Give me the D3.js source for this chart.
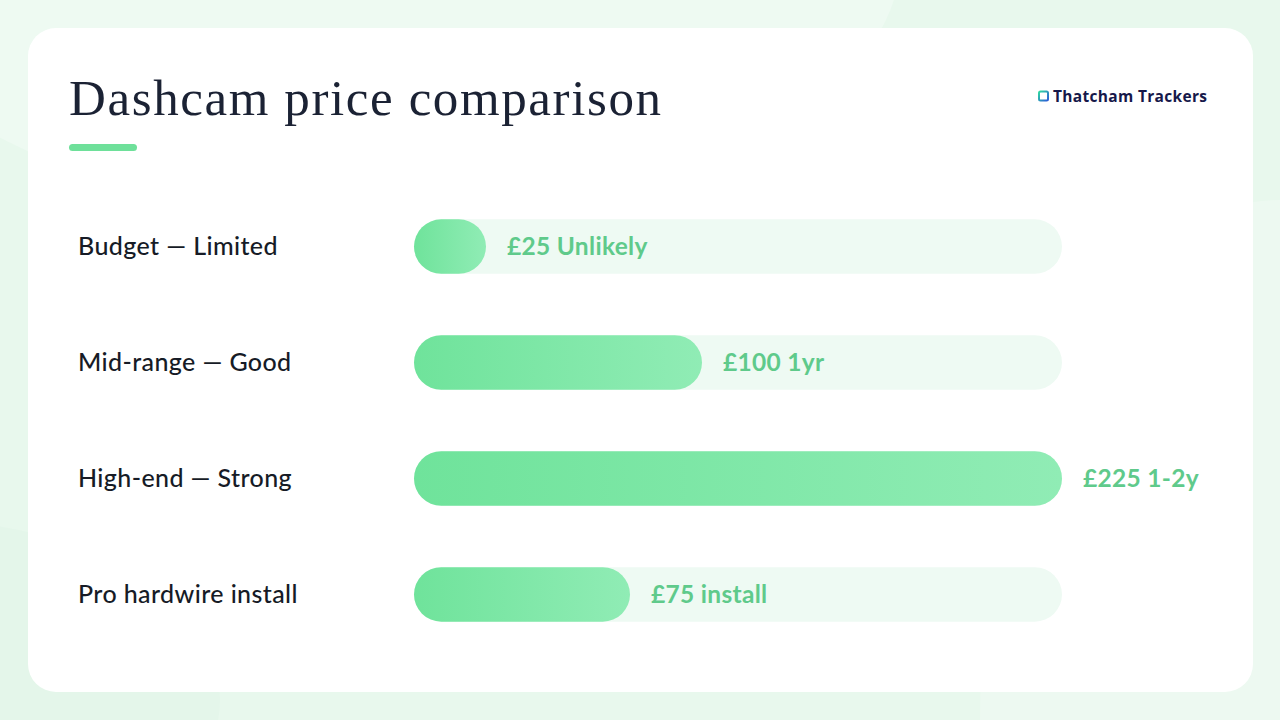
<!DOCTYPE html>
<html>
<head>
<meta charset="utf-8">
<script src="https://cdn.jsdelivr.net/npm/d3@7"></script>
<style>
html,body{margin:0;padding:0;background:#e6f7ec;}
svg{display:block;}
</style>
</head>
<body>
<svg id="chart" width="1280" height="720"></svg>
<script>
const categories = ["Budget — Limited", "Mid-range — Good", "High-end — Strong", "Pro hardwire install"];
const prices = [25, 100, 225, 75];
const valueLabels = ["£25 Unlikely", "£100 1yr", "£225 1-2y", "£75 install"];
const title = "Dashcam price comparison";
const brand = "Thatcham Trackers";

const svg = d3.select("#chart");
const defs = svg.append("defs");

const g1 = defs.append("linearGradient").attr("id","barGrad").attr("x1","0%").attr("x2","100%");
g1.append("stop").attr("offset","0%").attr("stop-color","#6fe39b");
g1.append("stop").attr("offset","100%").attr("stop-color","#90ecb5");

const g2 = defs.append("linearGradient").attr("id","logoGrad").attr("x1","0%").attr("y1","0%").attr("x2","100%").attr("y2","100%");
g2.append("stop").attr("offset","0%").attr("stop-color","#2fd9a0");
g2.append("stop").attr("offset","100%").attr("stop-color","#2a5bd7");

// background
svg.append("rect").attr("width",1280).attr("height",720).attr("fill","#e8f8ed");
svg.append("ellipse").attr("cx",380).attr("cy",-40).attr("rx",520).attr("ry",260).attr("fill","#eefaf2");
svg.append("ellipse").attr("cx",1280).attr("cy",720).attr("rx",300).attr("ry",520).attr("fill","#edf9f1");
svg.append("ellipse").attr("cx",-80).attr("cy",700).attr("rx",300).attr("ry",180).attr("fill","#e4f6ea");

// card
svg.append("rect").attr("x",28).attr("y",28).attr("width",1225).attr("height",664)
  .attr("rx",28).attr("ry",28).attr("fill","#ffffff");

// title
svg.append("text").attr("x",69).attr("y",115).text(title)
  .attr("font-family","'Liberation Serif', 'DejaVu Serif', serif")
  .attr("font-size",51).attr("fill","#1b2234")
  .attr("textLength",592).attr("lengthAdjust","spacing");
svg.append("rect").attr("x",69).attr("y",144).attr("width",68).attr("height",7)
  .attr("rx",3.5).attr("fill","#6ee09a");

// brand
svg.append("rect").attr("x",1039).attr("y",91.5).attr("width",9).attr("height",9).attr("rx",1.5)
  .attr("fill","none").attr("stroke","url(#logoGrad)").attr("stroke-width",2);
svg.append("text").attr("x",1053).attr("y",102).text(brand)
  .attr("font-family","'Open Sans', 'Noto Sans', sans-serif").attr("font-weight",700)
  .attr("font-size",15.5).attr("fill","#16184a")
  .attr("textLength",154).attr("lengthAdjust","spacing");

// scales
const x = d3.scaleLinear().domain([0, 225]).range([414, 1062]);
const y = d3.scaleBand().domain(categories).range([188, 653]).paddingInner(0.53).paddingOuter(0.27);
const bh = y.bandwidth();

const rows = svg.append("g").selectAll("g").data(categories).join("g");

rows.append("rect").attr("class","track")
  .attr("x", x(0)).attr("y", d => y(d))
  .attr("width", x(225) - x(0)).attr("height", bh)
  .attr("rx", bh/2).attr("fill", "#eefaf3");

rows.append("rect").attr("class","bar")
  .attr("x", x(0)).attr("y", d => y(d))
  .attr("width", (d,i) => x(prices[i]) - x(0)).attr("height", bh)
  .attr("rx", bh/2).attr("fill", "url(#barGrad)");

rows.append("text")
  .attr("x", 78).attr("y", d => y(d) + bh/2).attr("dy","0.35em")
  .text(d => d)
  .attr("font-family","Lato, 'Noto Sans', sans-serif").attr("font-weight",500)
  .attr("font-size",25).attr("letter-spacing",0.4).attr("fill","#161b26");

rows.append("text")
  .attr("x", (d,i) => x(prices[i]) + 21).attr("y", d => y(d) + bh/2).attr("dy","0.35em")
  .text((d,i) => valueLabels[i])
  .attr("font-family","Lato, 'Noto Sans', sans-serif").attr("font-weight",700)
  .attr("font-size",24.5).attr("letter-spacing",0.3).attr("fill","#5fca8b");
</script>
</body>
</html>
